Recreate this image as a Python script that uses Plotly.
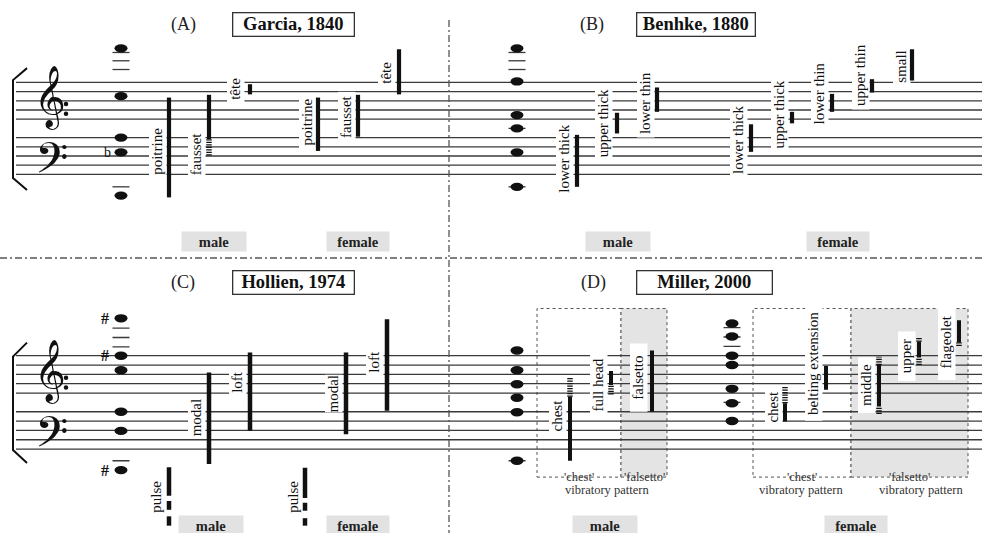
import plotly.graph_objects as go

# ------------------------------------------------------------------
# DATA  (pitch given in diatonic staff steps, middle C = 0;
#        even numbers = staff lines: E4=2 ... F5=10, A3=-2 ... G2=-10)
# ------------------------------------------------------------------
STAFF_STEPS = [10, 8, 6, 4, 2, -2, -4, -6, -8, -10]

# (A) Garcia, 1840
A_note_steps = [17.4, 7.0, -2.0, -5.2, -14.6]
A_ledger_steps = [12.8, 14.7, 16.5, -12.7]
A_flat_steps = [-5.2]
A_registers = ["poitrine", "fausset", "tête", "poitrine", "fausset", "tête"]
A_low = [-15.0, -2.3, 7.4, -4.9, -1.8, 7.4]
A_high = [6.7, 7.3, 9.6, 6.7, 7.3, 17.2]
A_dot_reg = [1]
A_dot_low = [-5.9]
A_dot_high = [-2.3]

# (B) Benhke, 1880
B_note_steps = [17.4, 10.2, 2.9, 0.0, -5.2, -12.7]
B_ledger_steps = [12.8, 14.7, 16.5, 0.0, -12.7]
B_registers = ["lower thick", "upper thick", "lower thin",
               "lower thick", "upper thick", "lower thin", "upper thin", "small"]
B_low = [-12.7, -1.1, 3.6, -5.1, 1.1, 3.6, 7.8, 10.4]
B_high = [-1.4, 3.4, 8.9, 0.9, 3.6, 7.5, 10.7, 17.2]

# (C) Hollien, 1974
C_note_steps = [18.0, 10.0, 6.9, -2.0, -6.1, -14.5]
C_ledger_steps = [11.9, 13.9, 15.9, -12.5]
C_sharp_steps = [18.0, 10.0, -14.5]
C_registers = ["pulse", "modal", "loft", "pulse", "modal", "loft"]
C_low = [-20.0, -13.2, -6.1, -20.5, -6.8, -1.8]
C_high = [-13.9, 6.4, 10.7, -14.0, 10.7, 17.8]
C_pulse_reg = [0, 0, 3, 3]
C_pulse_low = [-23.0, -26.4, -23.2, -26.4]
C_pulse_high = [-21.1, -24.4, -21.5, -24.8]

# (D) Miller, 2000
D_male_note_steps = [11.1, 6.9, 3.9, 1.0, -2.1, -12.5]
D_female_note_steps = [16.9, 14.1, 10.0, 8.0, 2.9, -0.2, -4.0]
D_male_ledger_steps = [-12.5]
D_female_ledger_steps = [16.0, 14.0, 12.0, 0.0]
D_registers = ["chest", "full head", "falsetto",
               "chest", "belting extension", "middle", "upper", "flageolet"]
D_low = [-12.5, 3.7, -2.0, -4.1, 2.7, -0.9, 9.6, 12.9]
D_high = [1.2, 6.7, 11.1, -0.2, 7.8, 8.0, 13.0, 17.6]
D_dot_reg = [0, 1, 3, 5, 5, 6, 6, 7]
D_dot_low = [1.2, 1.7, -0.2, 8.0, -2.5, 13.0, 8.0, 12.1]
D_dot_high = [5.2, 3.7, 3.4, 9.8, -0.9, 13.9, 9.6, 12.9]
D_box_labels = ["'chest'", "'falsetto'", "'chest'", "'falsetto'"]
D_box_top = 20.1
D_box_bottom = -16.0

# ------------------------------------------------------------------
# LAYOUT POSITIONS (x in figure pixels, label y in staff steps)
# ------------------------------------------------------------------
W, H = 982, 533
PX_PER_STEP = {"y": 4.6, "y2": 4.67}
NOTE_X = {"A": 121, "B": 517, "C": 121, "Dm": 517, "Df": 732}
A_bar_x = [169, 209, 250, 318, 358, 399]
A_lab_x = [158, 197, 236, 308, 347, 387]
A_lab_y = [-5.1, -5.6, 8.6, 1.3, 2.5, 12.1]
B_bar_x = [577, 617, 657, 751, 792, 832, 872, 912]
B_lab_x = [565, 604, 646, 739, 780, 820, 861, 902]
B_lab_y = [-6.6, 1.1, 5.5, -2.5, 3.0, 7.6, 11.6, 13.4]
C_bar_x = [169, 209, 250, 305, 346, 387]
C_lab_x = [157, 197, 238, 294, 334, 375]
C_lab_y = [-20.2, -3.2, 4.4, -20.2, 1.9, 8.7]
D_bar_x = [570, 611, 652, 785, 826, 879, 919, 959]
D_lab_x = [558, 599, 639, 774, 814, 867, 907, 947]
D_lab_y = [-2.8, 3.6, 5.3, -0.9, 8.2, 3.7, 9.9, 12.8]
D_lab_pad = [3, 3, 9, 3, 3, 9, 9, 9]
D_box_x = [537, 621, 667, 753, 851, 968]

SERIF = "Liberation Serif, Times New Roman, serif"
MUSIC = "DejaVu Sans, Noto Sans Symbols2, serif"
INK = "#111111"
STAFF = "#3a3a3a"
LABEL_SIZE = 15


def P(py):
    return 1 - py / H


fig = go.Figure()
shapes_below = []
shapes_gaps = []
shapes_above = []
annotations = []

# ---------------- D boxes (bottom-most) ----------------
for i, (x0, x1) in enumerate([(D_box_x[0], D_box_x[1]), (D_box_x[1], D_box_x[2]),
                              (D_box_x[3], D_box_x[4]), (D_box_x[4], D_box_x[5])]):
    shapes_below.append(dict(type="rect", xref="x", yref="y2", x0=x0, x1=x1,
                             y0=D_box_bottom, y1=D_box_top,
                             fillcolor="#e4e4e4" if i % 2 else "rgba(0,0,0,0)",
                             line=dict(color="#555555", width=1, dash="dot"), layer="below"))

# ---------------- staff lines ----------------
for yref in ["y", "y2"]:
    for s in STAFF_STEPS:
        shapes_below.append(dict(type="line", xref="x", yref=yref, x0=16, x1=W, y0=s, y1=s,
                                 line=dict(color=STAFF, width=1.3), layer="below"))


def add_ledgers(x, steps, yax, half=8.5):
    xs, ys = [], []
    for s in steps:
        xs += [x - half, x + half, None]
        ys += [s, s, None]
    fig.add_trace(go.Scatter(x=xs, y=ys, yaxis=yax, mode="lines",
                             line=dict(color=STAFF, width=1.3), hoverinfo="skip"))


def add_notes(x, steps, yref):
    for s in steps:
        shapes_above.append(dict(type="circle", xref="x", yref=yref,
                                 x0=x - 6.5, x1=x + 6.5, y0=s - 0.9, y1=s + 0.9,
                                 fillcolor=INK, line=dict(width=0), layer="above"))


def add_bars(xpos, low, high, yax, width=4.2):
    xs, ys = [], []
    for x, lo, hi in zip(xpos, low, high):
        xs += [x, x, None]
        ys += [lo, hi, None]
    fig.add_trace(go.Scatter(x=xs, y=ys, yaxis=yax, mode="lines",
                             line=dict(color=INK, width=width), hoverinfo="skip"))


def add_dotted(xpos, regs, low, high, yax):
    xs, ys = [], []
    for r, lo, hi in zip(regs, low, high):
        xs += [xpos[r], xpos[r], None]
        ys += [lo, hi, None]
    fig.add_trace(go.Scatter(x=xs, y=ys, yaxis=yax, mode="lines",
                             line=dict(color=INK, width=5.5, dash="1.2px,1.3px"),
                             hoverinfo="skip"))


def add_labels(names, xs, ys, yref, pads=None):
    for i, (t, x, y) in enumerate(zip(names, xs, ys)):
        pad = pads[i] if pads else 3
        half_len = (len(t) * 6.3 / 2 + pad) / PX_PER_STEP[yref]
        shapes_gaps.append(dict(type="rect", xref="x", yref=yref, x0=x - 9, x1=x + 8.5,
                                y0=y - half_len, y1=y + half_len, fillcolor="white",
                                line=dict(width=0), layer="below"))
        annotations.append(dict(text=t, x=x - 1, y=y, xref="x", yref=yref, showarrow=False,
                                textangle=-90, xanchor="center", yanchor="middle",
                                font=dict(family=SERIF, size=LABEL_SIZE, color=INK)))


# ---------------- panel A ----------------
add_ledgers(NOTE_X["A"], A_ledger_steps, "y")
add_notes(NOTE_X["A"], A_note_steps, "y")
add_bars(A_bar_x, A_low, A_high, "y")
add_dotted(A_bar_x, A_dot_reg, A_dot_low, A_dot_high, "y")
add_labels(A_registers, A_lab_x, A_lab_y, "y")
for s in A_flat_steps:
    annotations.append(dict(text="b", x=NOTE_X["A"] - 14, y=s, xref="x", yref="y",
                            showarrow=False, font=dict(family=SERIF, size=14, color=INK)))

# ---------------- panel B ----------------
add_ledgers(NOTE_X["B"], B_ledger_steps, "y")
add_notes(NOTE_X["B"], B_note_steps, "y")
add_bars(B_bar_x, B_low, B_high, "y")
add_labels(B_registers, B_lab_x, B_lab_y, "y")

# ---------------- panel C ----------------
add_ledgers(NOTE_X["C"], C_ledger_steps, "y2")
add_notes(NOTE_X["C"], C_note_steps, "y2")
add_bars(C_bar_x, C_low, C_high, "y2", width=4.5)
add_bars([C_bar_x[r] for r in C_pulse_reg], C_pulse_low, C_pulse_high, "y2", width=4.5)
add_labels(C_registers, C_lab_x, C_lab_y, "y2")
for s in C_sharp_steps:
    annotations.append(dict(text="<b>#</b>", x=NOTE_X["C"] - 16, y=s, xref="x", yref="y2",
                            showarrow=False, font=dict(family=SERIF, size=16, color=INK)))

# ---------------- panel D ----------------
add_ledgers(NOTE_X["Dm"], D_male_ledger_steps, "y2")
add_ledgers(NOTE_X["Df"], D_female_ledger_steps, "y2")
add_notes(NOTE_X["Dm"], D_male_note_steps, "y2")
add_notes(NOTE_X["Df"], D_female_note_steps, "y2")
add_bars(D_bar_x, D_low, D_high, "y2", width=4)
add_dotted(D_bar_x, D_dot_reg, D_dot_low, D_dot_high, "y2")
add_labels(D_registers, D_lab_x, D_lab_y, "y2", pads=D_lab_pad)

box_centres = [(D_box_x[0] + D_box_x[1]) / 2, (D_box_x[1] + D_box_x[2]) / 2,
               (D_box_x[3] + D_box_x[4]) / 2, (D_box_x[4] + D_box_x[5]) / 2]
for t, xc in zip(D_box_labels, box_centres):
    annotations.append(dict(text=t, x=xc, y=P(477), xref="x", yref="paper", showarrow=False,
                            yanchor="middle",
                            font=dict(family=SERIF, size=12.5, color="#333333")))
for xc in [607, 801, 921]:
    annotations.append(dict(text="vibratory pattern", x=xc, y=P(490), xref="x", yref="paper",
                            showarrow=False, yanchor="middle",
                            font=dict(family=SERIF, size=12.5, color="#333333")))

# ---------------- clefs, brackets ----------------
for yref, bass_y in [("y", -7.6), ("y2", -7.5)]:
    annotations.append(dict(text="\U0001D11E", x=50, y=6.8, xref="x", yref=yref, showarrow=False,
                            yanchor="middle", font=dict(family=MUSIC, size=54, color=INK)))
    annotations.append(dict(text="\U0001D122", x=51, y=bass_y, xref="x", yref=yref, showarrow=False,
                            yanchor="middle", font=dict(family=MUSIC, size=52, color=INK)))
fig.add_trace(go.Scatter(x=[66, 66], y=[5.3, 3.2], mode="markers", yaxis="y",
                         marker=dict(color=INK, size=4.5), hoverinfo="skip"))
fig.add_trace(go.Scatter(x=[66, 66], y=[5.3, 3.2], mode="markers", yaxis="y2",
                         marker=dict(color=INK, size=4.5), hoverinfo="skip"))
for yref, br in [("y", (13.1, 10.5, -10.8, -13.4)), ("y2", (12.8, 9.8, -10.2, -13.0))]:
    shapes_above.append(dict(type="path", xref="x", yref=yref, layer="above",
                             path=f"M 27,{br[0]} L 13,{br[1]} L 13,{br[2]} L 27,{br[3]}",
                             line=dict(color=INK, width=2)))

# ---------------- titles ----------------
titles = [("(A)", "Garcia, 1840", 183, 293.5, 24, 118),
          ("(B)", "Benhke, 1880", 592, 696, 24, 115),
          ("(C)", "Hollien, 1974", 183, 293.5, 282, 118),
          ("(D)", "Miller, 2000", 593, 704, 282, 132)]
for lab, name, xl, xb, py, w in titles:
    annotations.append(dict(text=lab, x=xl, y=P(py), xref="x", yref="paper", showarrow=False,
                            yanchor="middle",
                            font=dict(family=SERIF, size=18, color="#222222")))
    annotations.append(dict(text=f"<b>{name}</b>", x=xb, y=P(py), xref="x", yref="paper",
                            showarrow=False, width=w, borderpad=1, bordercolor="#333333",
                            borderwidth=1.3, bgcolor="white", yanchor="middle",
                            font=dict(family=SERIF, size=18.5, color=INK)))

# ---------------- male / female tags ----------------
tags = [("male", 214, 241), ("female", 357.5, 241), ("male", 617.5, 241), ("female", 838, 241),
        ("male", 211, 525), ("female", 358, 525), ("male", 605, 525), ("female", 856, 525)]
for t, x, py in tags:
    annotations.append(dict(text=f"<b>{t}</b>", x=x, y=P(py), xref="x", yref="paper",
                            showarrow=False, width=62 if t == "male" else 60, height=17,
                            yanchor="middle", bgcolor="#e2e2e2",
                            font=dict(family=SERIF, size=14.5, color="#222222")))

# ---------------- dividers ----------------
shapes_above.append(dict(type="line", xref="paper", yref="paper", x0=0, x1=1, y0=P(258), y1=P(258),
                         line=dict(color="#555555", width=1.3, dash="7px,3px,2px,3px")))
shapes_above.append(dict(type="line", xref="x", yref="paper", x0=449, x1=449, y0=P(20), y1=0,
                         line=dict(color="#555555", width=1.3, dash="7px,3px,2px,3px")))

fig.update_layout(
    width=W, height=H, margin=dict(l=0, r=0, t=0, b=0),
    paper_bgcolor="white", plot_bgcolor="white", showlegend=False,
    xaxis=dict(range=[0, W], visible=False, fixedrange=True),
    yaxis=dict(domain=[0.5, 1], range=[-30.02, 27.91], visible=False, fixedrange=True),
    yaxis2=dict(domain=[0, 0.5], range=[-27.97, 29.10], visible=False, fixedrange=True, anchor="x"),
    shapes=shapes_below + shapes_gaps + shapes_above, annotations=annotations,
)

fig.write_html("out.html", config={"displayModeBar": False},
               post_script="document.body.style.margin='0';")
